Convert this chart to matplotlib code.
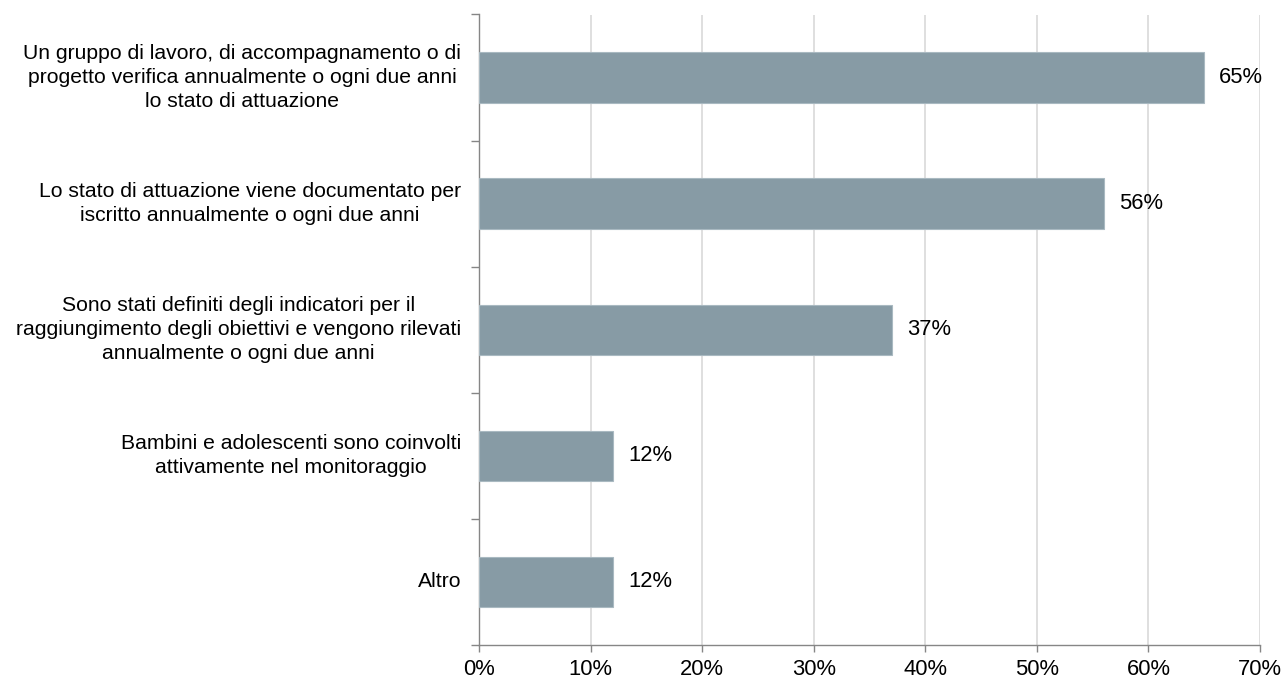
import matplotlib
matplotlib.use("Agg")
import matplotlib.pyplot as plt
from matplotlib.ticker import FixedLocator, NullFormatter
from matplotlib.transforms import blended_transform_factory

plt.rcParams['font.family'] = ['Liberation Sans', 'DejaVu Sans']

categories = [
    "Un gruppo di lavoro, di accompagnamento o di\nprogetto verifica annualmente o ogni due anni\nlo stato di attuazione",
    "Lo stato di attuazione viene documentato per\niscritto annualmente o ogni due anni",
    "Sono stati definiti degli indicatori per il\nraggiungimento degli obiettivi e vengono rilevati\nannualmente o ogni due anni",
    "Bambini e adolescenti sono coinvolti\nattivamente nel monitoraggio",
    "Altro",
]
values = [65, 56, 37, 12, 12]
x_ticks = [0, 10, 20, 30, 40, 50, 60, 70]
x_tick_labels = ["0%", "10%", "20%", "30%", "40%", "50%", "60%", "70%"]

bar_color = "#879ba5"
axis_color = "#868686"
grid_color = "#d9d9d9"
fs_cat = 15.2
fs_num = 15.8

fig = plt.figure(figsize=(12.85, 6.78), dpi=100)
ax = fig.add_axes([479 / 1285, 1 - 645 / 678, (1260 - 479) / 1285, (645 - 14.5) / 678])

n = len(categories)
ypos = list(range(n))
ax.barh(ypos, values, height=0.4, color=bar_color, edgecolor="#a9b9c1", linewidth=0.8, zorder=3)
ax.set_ylim(n - 0.5, -0.5)
ax.set_xlim(0, 70)

for y, v in zip(ypos, values):
    ax.text(v + 1.35, y, f"{v}%", va="center", ha="left", fontsize=fs_num, color="#000000")

ax.set_xticks(x_ticks)
ax.set_xticklabels(x_tick_labels, fontsize=fs_num)
ax.xaxis.grid(True, color=grid_color, linewidth=1.2, zorder=0)
ax.set_axisbelow(True)

# tick marks on the boundaries between categories
ax.yaxis.set_major_locator(FixedLocator([i + 0.5 for i in range(-1, n)]))
ax.yaxis.set_major_formatter(NullFormatter())
ax.tick_params(axis="y", which="major", length=6, width=1, color=axis_color)
ax.tick_params(axis="x", length=5, width=1, color=axis_color, pad=5)

for side in ["top", "right"]:
    ax.spines[side].set_visible(False)
for side in ["left", "bottom"]:
    ax.spines[side].set_color(axis_color)
    ax.spines[side].set_linewidth(1)

# multi-line category labels: block right-aligned to the axis, lines centred
trans = blended_transform_factory(fig.transFigure, ax.transData)
label_right_x = 461 / 1285
for y, txt in zip(ypos, categories):
    fig.text(label_right_x, y, txt, transform=trans, ha="right", va="center",
             multialignment="center", fontsize=fs_cat, linespacing=1.33, color="#000000")

fig.savefig("out.png", dpi=100, facecolor="white")
